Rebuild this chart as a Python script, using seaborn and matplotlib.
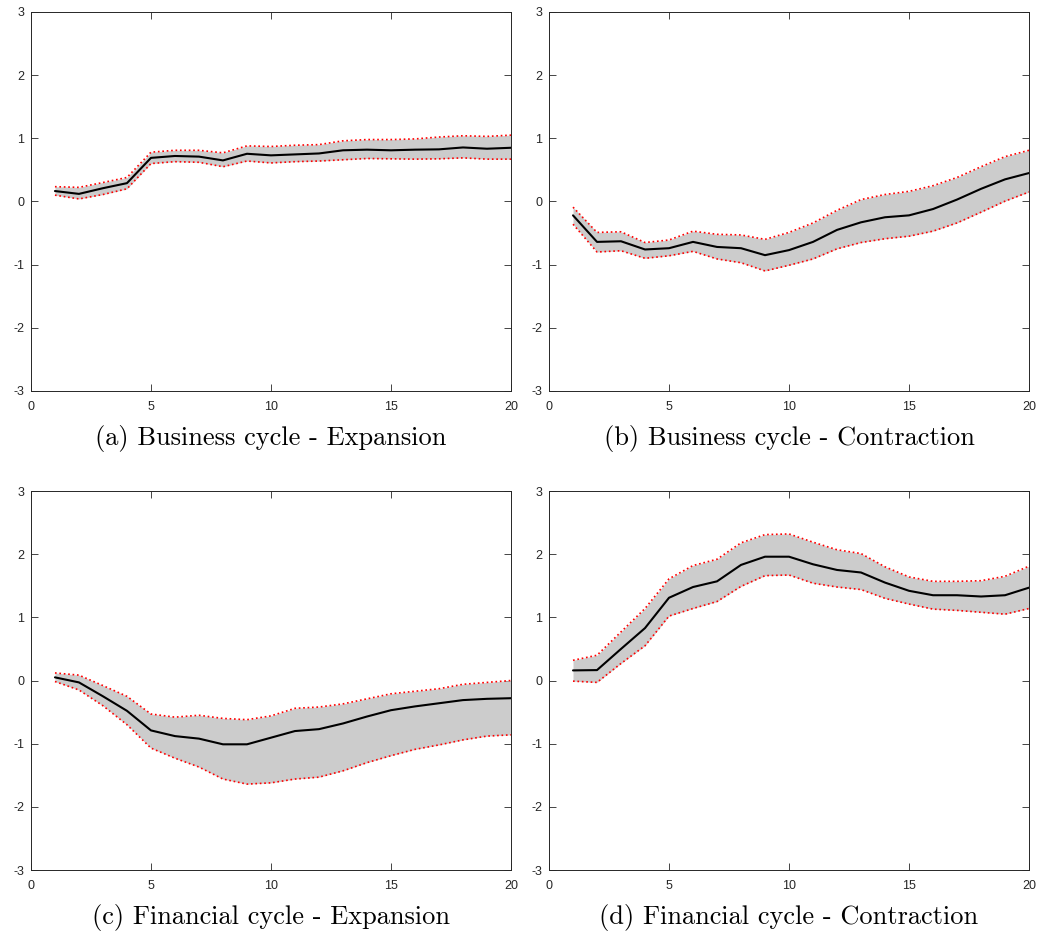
import numpy as np
import pandas as pd
import seaborn as sns
import matplotlib
matplotlib.use("Agg")
import matplotlib.pyplot as plt

horizon = list(range(1, 21))

# (a) Business cycle - Expansion
bc_exp_mid = [0.165, 0.12, 0.21, 0.29, 0.69, 0.72, 0.71, 0.65, 0.755, 0.73,
              0.745, 0.76, 0.81, 0.82, 0.81, 0.82, 0.825, 0.855, 0.835, 0.85]
bc_exp_up = [0.234, 0.223, 0.30, 0.38, 0.78, 0.81, 0.81, 0.77, 0.88, 0.87,
             0.89, 0.90, 0.96, 0.98, 0.98, 0.99, 1.02, 1.04, 1.03, 1.05]
bc_exp_lo = [0.10, 0.04, 0.11, 0.20, 0.60, 0.63, 0.62, 0.55, 0.64, 0.61,
             0.63, 0.64, 0.66, 0.68, 0.675, 0.67, 0.675, 0.69, 0.67, 0.67]

# (b) Business cycle - Contraction
bc_con_mid = [-0.22, -0.64, -0.63, -0.76, -0.74, -0.64, -0.72, -0.74, -0.85, -0.77,
              -0.64, -0.45, -0.33, -0.25, -0.22, -0.12, 0.03, 0.20, 0.35, 0.45]
bc_con_up = [-0.09, -0.49, -0.48, -0.65, -0.61, -0.47, -0.52, -0.53, -0.60, -0.49,
             -0.34, -0.14, 0.03, 0.11, 0.16, 0.25, 0.38, 0.55, 0.71, 0.81]
bc_con_lo = [-0.36, -0.80, -0.78, -0.90, -0.86, -0.79, -0.91, -0.97, -1.10, -1.01,
             -0.91, -0.75, -0.65, -0.59, -0.55, -0.47, -0.34, -0.17, 0.005, 0.15]

# (c) Financial cycle - Expansion
fc_exp_mid = [0.05, -0.03, -0.25, -0.48, -0.79, -0.88, -0.92, -1.01, -1.01, -0.905,
              -0.80, -0.77, -0.68, -0.57, -0.47, -0.41, -0.36, -0.31, -0.29, -0.28]
fc_exp_up = [0.12, 0.085, -0.08, -0.25, -0.53, -0.58, -0.55, -0.60, -0.62, -0.56,
             -0.44, -0.42, -0.37, -0.29, -0.21, -0.17, -0.13, -0.06, -0.03, 0.0]
fc_exp_lo = [-0.016, -0.15, -0.40, -0.70, -1.07, -1.23, -1.37, -1.56, -1.64, -1.62,
             -1.56, -1.53, -1.43, -1.30, -1.19, -1.09, -1.02, -0.94, -0.88, -0.86]

# (d) Financial cycle - Contraction
fc_con_mid = [0.16, 0.165, 0.50, 0.83, 1.31, 1.48, 1.57, 1.83, 1.96, 1.96,
              1.84, 1.75, 1.71, 1.55, 1.42, 1.35, 1.35, 1.33, 1.35, 1.47]
fc_con_up = [0.32, 0.40, 0.77, 1.14, 1.61, 1.82, 1.92, 2.18, 2.31, 2.32,
             2.19, 2.07, 2.01, 1.80, 1.64, 1.57, 1.57, 1.58, 1.65, 1.81]
fc_con_lo = [-0.01, -0.03, 0.27, 0.55, 1.02, 1.14, 1.25, 1.49, 1.66, 1.67,
             1.54, 1.48, 1.44, 1.30, 1.21, 1.13, 1.11, 1.08, 1.05, 1.14]

captions = ["(a) Business cycle - Expansion", "(b) Business cycle - Contraction",
            "(c) Financial cycle - Expansion", "(d) Financial cycle - Contraction"]

panels = [(bc_exp_mid, bc_exp_up, bc_exp_lo), (bc_con_mid, bc_con_up, bc_con_lo),
          (fc_exp_mid, fc_exp_up, fc_exp_lo), (fc_con_mid, fc_con_up, fc_con_lo)]

sns.set_style("ticks")
plt.rcParams['font.family'] = ['Liberation Sans', 'DejaVu Sans']
plt.rcParams['xtick.direction'] = 'in'
plt.rcParams['ytick.direction'] = 'in'
plt.rcParams['axes.unicode_minus'] = False

fig = plt.figure(figsize=(10.39, 9.34), dpi=100)

# axes boxes in figure fractions [left, bottom, width, height]
boxes = [[0.0298, 0.5814, 0.462, 0.4058], [0.5284, 0.5814, 0.462, 0.4058],
         [0.0298, 0.0685, 0.462, 0.4058], [0.5284, 0.0685, 0.462, 0.4058]]

for i, (mid, up, lo) in enumerate(panels):
    ax = fig.add_axes(boxes[i])
    df = pd.DataFrame({"h": horizon, "mid": mid, "up": up, "lo": lo})

    ax.fill_between(df["h"], df["lo"], df["up"], color="#cccccc", linewidth=0)
    sns.lineplot(data=df, x="h", y="up", ax=ax, color="red", linestyle=":", linewidth=1.2)
    sns.lineplot(data=df, x="h", y="lo", ax=ax, color="red", linestyle=":", linewidth=1.2)
    sns.lineplot(data=df, x="h", y="mid", ax=ax, color="black", linewidth=1.5)

    ax.set_xlim(0, 20)
    ax.set_ylim(-3, 3)
    ax.set_xticks([0, 5, 10, 15, 20])
    ax.set_yticks([-3, -2, -1, 0, 1, 2, 3])
    ax.set_xlabel("")
    ax.set_ylabel("")
    ax.tick_params(top=True, right=True, labelsize=9, length=5, width=0.6,
                   colors="#262626", labelcolor="#262626")
    ax.tick_params(axis="x", pad=7)
    ax.tick_params(axis="y", pad=5)
    for s in ax.spines.values():
        s.set_linewidth(0.7)
        s.set_color("#262626")
        s.set_visible(True)

    ax.text(0.5, -0.125, captions[i], transform=ax.transAxes, ha="center", va="center",
            fontsize=19, color="black", family=["cmr10", "DejaVu Serif"])

fig.savefig("out.png", dpi=100)
